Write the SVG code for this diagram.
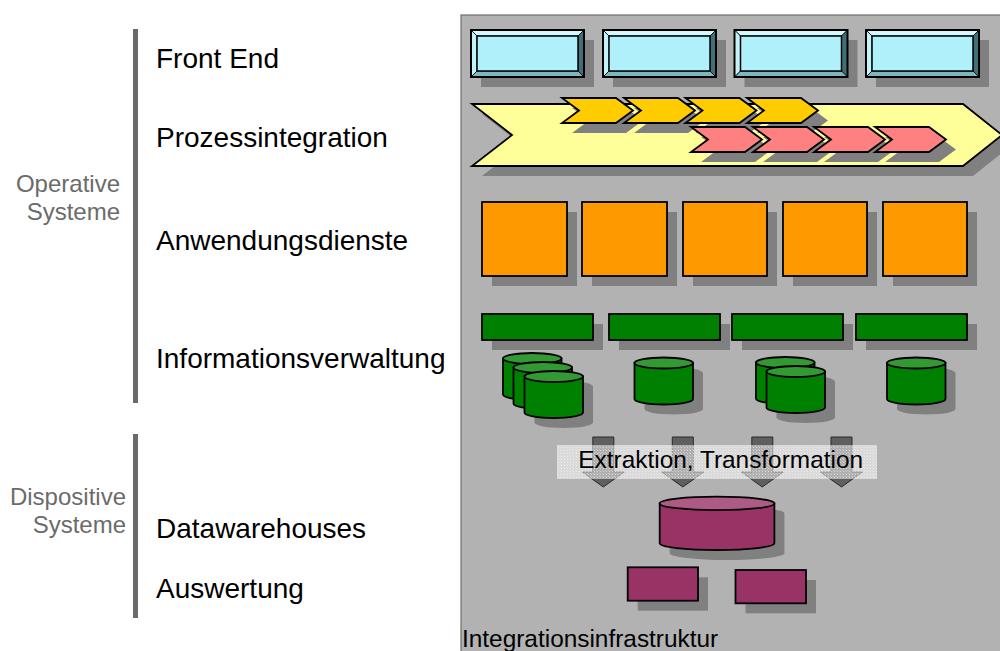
<svg xmlns="http://www.w3.org/2000/svg" width="1000" height="651" viewBox="0 0 1000 651">
<style>
.lbl{font-family:"Liberation Sans",Arial,sans-serif;font-size:28px;fill:#000}
.grp{font-family:"Liberation Sans",Arial,sans-serif;font-size:24px;fill:#6b6b6b}
.txt{font-family:"Liberation Sans",Arial,sans-serif;font-size:24.4px;fill:#000}
.sh{fill:#808080}
.ol{stroke:#000;stroke-width:1.8;stroke-linejoin:miter}
.bar{fill:#6b6b6b}
.arw{fill:#5f5f5f;stroke:#2a2a2a;stroke-width:1}
</style>
<defs>
<g id="tpl-fe">
<rect x="10" y="10" width="113" height="47" class="sh"/>
<rect x="0" y="0" width="113" height="47" fill="#aff0fb"/>
<polygon points="0,0 113,0 107,6 6,6" fill="#d4f8fe" stroke="#000" stroke-width="0.8"/>
<polygon points="0,0 6,6 6,41 0,47" fill="#c4f2fb" stroke="#000" stroke-width="0.8"/>
<polygon points="113,0 113,47 107,41 107,6" fill="#3f6f77" stroke="#000" stroke-width="0.8"/>
<polygon points="0,47 113,47 107,41 6,41" fill="#7fb6c0" stroke="#000" stroke-width="0.8"/>
<rect x="6" y="6" width="101" height="35" fill="#aff0fb" stroke="#000" stroke-width="1.5"/>
<rect x="0" y="0" width="113" height="47" fill="none" stroke="#000" stroke-width="2"/>
</g>
<polygon id="tpl-chev" points="0,0 54,0 71,12.5 54,25 0,25 17,12.5"/>
<g id="tpl-cyl-sh">
<path d="M10,15.5 A29.25,5.5 0 0 1 68.5,15.5 V51.5 A29.25,5.5 0 0 1 10,51.5 Z" class="sh"/>
</g>
<g id="tpl-cyl">
<path d="M0,5.5 V41.5 A29.25,5.5 0 0 0 58.5,41.5 V5.5 Z" fill="#008000" class="ol"/>
<ellipse cx="29.25" cy="5.5" rx="29.25" ry="5.5" fill="#339933" class="ol"/>
</g>
<pattern id="dith" width="3" height="3" patternUnits="userSpaceOnUse">
<rect width="3" height="3" fill="#fff" fill-opacity="0.5"/>
<rect width="1" height="1" fill="#fff" fill-opacity="0.5"/>
<rect x="2" y="2" width="1" height="1" fill="#fff" fill-opacity="0.3"/>
</pattern>
</defs>

<g id="left-axis">
<rect class="bar" x="133" y="29" width="5" height="374"/>
<rect class="bar" x="133" y="434" width="5" height="184"/>
</g>
<g id="label-operative"><text class="grp" text-anchor="end" x="120" y="191.5">Operative</text><text class="grp" text-anchor="end" x="120" y="220">Systeme</text></g>
<g id="label-dispositive"><text class="grp" text-anchor="end" x="126" y="505">Dispositive</text><text class="grp" text-anchor="end" x="126" y="533.3">Systeme</text></g>
<g id="label-frontend"><text class="lbl" x="156" y="68.3">Front End</text></g>
<g id="label-prozess"><text class="lbl" x="156" y="147">Prozessintegration</text></g>
<g id="label-anwendung"><text class="lbl" x="156" y="250">Anwendungsdienste</text></g>
<g id="label-info"><text class="lbl" x="156" y="368.3">Informationsverwaltung</text></g>
<g id="label-dwh"><text class="lbl" x="156" y="538.3">Datawarehouses</text></g>
<g id="label-auswertung"><text class="lbl" x="156" y="597.7">Auswertung</text></g>

<g id="panel">
<rect x="461" y="15" width="545" height="645" fill="#b2b2b2" stroke="#6e6e6e" stroke-width="1.2"/>
<text class="txt" x="462" y="647">Integrationsinfrastruktur</text>
</g>

<g id="frontend">
<use href="#tpl-fe" x="471" y="30"/>
<use href="#tpl-fe" x="603" y="30"/>
<use href="#tpl-fe" x="734.5" y="30"/>
<use href="#tpl-fe" x="866" y="30"/>
</g>

<g id="prozess">
<polygon class="sh" points="482,114 973,114 1012,145 973,176 482,176 522,145"/>
<polygon class="ol" fill="#ffff99" points="472,104 963,104 1002,135 963,166 472,166 512,135"/>
<g class="sh">
<use href="#tpl-chev" x="572" y="108"/><use href="#tpl-chev" x="634" y="108"/><use href="#tpl-chev" x="695.5" y="108"/><use href="#tpl-chev" x="757" y="108"/>
</g>
<g fill="#ffcc00" class="ol">
<use href="#tpl-chev" x="562" y="98"/><use href="#tpl-chev" x="624" y="98"/><use href="#tpl-chev" x="685.5" y="98"/><use href="#tpl-chev" x="747" y="98"/>
</g>
<g class="sh">
<use href="#tpl-chev" x="701" y="137"/><use href="#tpl-chev" x="763" y="137"/><use href="#tpl-chev" x="824" y="137"/><use href="#tpl-chev" x="885" y="137"/>
</g>
<g fill="#ff8080" class="ol">
<use href="#tpl-chev" x="691" y="127"/><use href="#tpl-chev" x="753" y="127"/><use href="#tpl-chev" x="814" y="127"/><use href="#tpl-chev" x="875" y="127"/>
</g>
</g>

<g id="anwendung">
<rect class="sh" x="492" y="212" width="85" height="74"/>
<rect class="sh" x="592" y="212" width="85" height="74"/>
<rect class="sh" x="693" y="212" width="84" height="74"/>
<rect class="sh" x="793" y="212" width="84" height="74"/>
<rect class="sh" x="893" y="212" width="84" height="74"/>
<g fill="#ff9900" class="ol">
<rect x="482" y="202" width="85" height="74"/>
<rect x="582" y="202" width="85" height="74"/>
<rect x="683" y="202" width="84" height="74"/>
<rect x="783" y="202" width="84" height="74"/>
<rect x="883" y="202" width="84" height="74"/>
</g>
</g>

<g id="info-bars">
<rect class="sh" x="492" y="324" width="111" height="26"/>
<rect class="sh" x="619" y="324" width="111" height="26"/>
<rect class="sh" x="742" y="324" width="111" height="26"/>
<rect class="sh" x="866" y="324" width="111" height="26"/>
<g fill="#008000" class="ol">
<rect x="482" y="314" width="111" height="26"/>
<rect x="609" y="314" width="111" height="26"/>
<rect x="732" y="314" width="111" height="26"/>
<rect x="856" y="314" width="111" height="26"/>
</g>
</g>

<g id="db1">
<use href="#tpl-cyl-sh" x="524.5" y="371"/>
<use href="#tpl-cyl" x="503" y="353"/>
<use href="#tpl-cyl" x="513.5" y="362"/>
<use href="#tpl-cyl" x="524.5" y="371"/>
</g>
<g id="db2">
<use href="#tpl-cyl-sh" x="634.5" y="357.5"/>
<use href="#tpl-cyl" x="634.5" y="357.5"/>
</g>
<g id="db3">
<use href="#tpl-cyl-sh" x="766.5" y="366"/>
<use href="#tpl-cyl" x="756" y="357"/>
<use href="#tpl-cyl" x="766.5" y="366"/>
</g>
<g id="db4">
<use href="#tpl-cyl-sh" x="887" y="357.5"/>
<use href="#tpl-cyl" x="887" y="357.5"/>
</g>

<g id="connectors">
<polygon class="arw" points="592.8,437 613.8,437 613.8,472 624.3,472 603.3,487 582.3,472 592.8,472"/>
<polygon class="arw" points="672.3,437 693.3,437 693.3,472 703.8,472 682.8,487 661.8,472 672.3,472"/>
<polygon class="arw" points="751.8,437 772.8,437 772.8,472 783.3,472 762.3,487 741.3,472 751.8,472"/>
<polygon class="arw" points="831,437 852,437 852,472 862.5,472 841.5,487 820.5,472 831,472"/>
</g>

<g id="etl-label">
<rect x="557" y="445" width="320" height="34" fill="url(#dith)"/>
<text class="txt" x="720.7" y="468" text-anchor="middle">Extraktion, Transformation</text>
</g>

<g id="dwh">
<path class="sh" d="M669.7,513.4 A57.35,6.7 0 0 1 784.4,513.4 V553.3 A57.35,6.7 0 0 1 669.7,553.3 Z"/>
<path d="M659.7,503.4 V543.3 A57.35,6.7 0 0 0 774.4,543.3 V503.4 Z" fill="#993366" class="ol"/>
<ellipse cx="717.05" cy="503.4" rx="57.35" ry="6.7" fill="#ad5a85" class="ol"/>
</g>

<g id="report1">
<rect class="sh" x="637.7" y="577.3" width="70.3" height="33.4"/>
<rect x="627.7" y="567.3" width="70.3" height="33.4" fill="#993366" class="ol"/>
</g>
<g id="report2">
<rect class="sh" x="745.5" y="580" width="70.5" height="33.3"/>
<rect x="735.5" y="570" width="70.5" height="33.3" fill="#993366" class="ol"/>
</g>
</svg>
